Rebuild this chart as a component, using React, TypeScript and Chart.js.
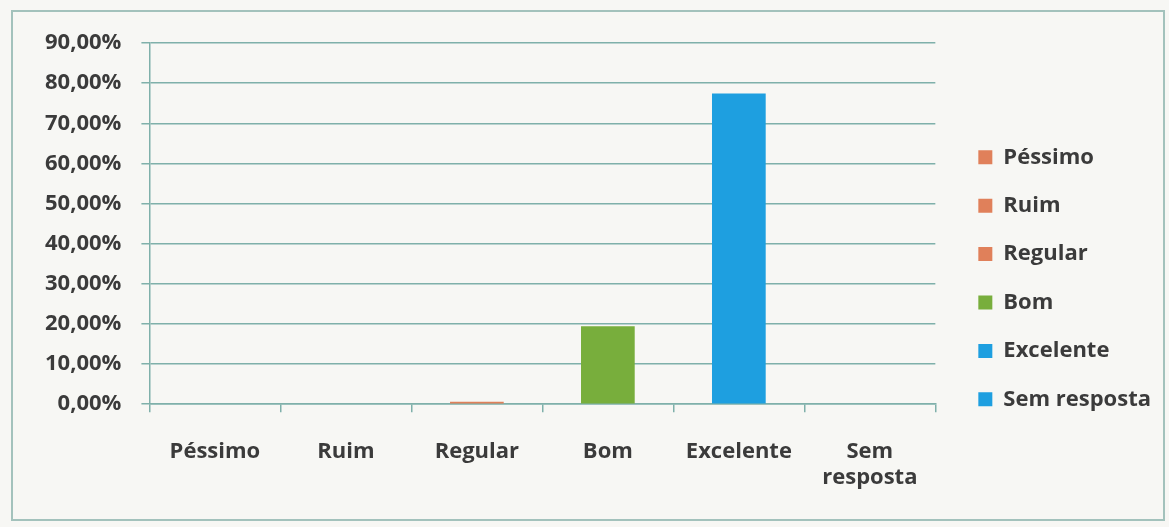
import React, { useEffect, useRef } from "react";
import { Chart, registerables } from "chart.js";

Chart.register(...registerables);

const categories = ["Péssimo", "Ruim", "Regular", "Bom", "Excelente", "Sem resposta"];
const values = [0, 0, 0.6, 19.4, 77.4, 0];
const barColors = ["#E0805A", "#E0805A", "#E0805A", "#78AE3C", "#1E9FE0", "#1E9FE0"];
const yTicks = [0, 10, 20, 30, 40, 50, 60, 70, 80, 90];

const FONT = "'Open Sans', sans-serif";
const TEXT = "#3b3b3b";
const GRID = "#7fb0aa";
const FS = 22;

export default function App() {
  const ref = useRef<HTMLCanvasElement | null>(null);

  useEffect(() => {
    document.body.style.background = "#f7f7f4";
    const ctx = ref.current!;
    const chart = new Chart(ctx, {
      type: "bar",
      data: {
        labels: categories,
        datasets: [
          {
            data: values,
            backgroundColor: barColors,
            borderWidth: 0,
            barPercentage: 0.41,
            categoryPercentage: 1,
          },
        ],
      },
      options: {
        responsive: false,
        animation: false,
        layout: { padding: { top: 11, right: 2, bottom: 2, left: 12 } },
        plugins: {
          tooltip: { enabled: false },
          legend: {
            position: "right",
            labels: {
              boxWidth: 14,
              boxHeight: 14,
              padding: 43,
              color: TEXT,
              font: { family: FONT, size: FS, weight: "bold", lineHeight: 0.245 },
              generateLabels: () =>
                categories.map((c, i) => ({
                  text: [c],
                  fillStyle: barColors[i],
                  strokeStyle: barColors[i],
                  lineWidth: 0,
                  hidden: false,
                  index: i,
                  fontColor: TEXT,
                })) as any,
            },
            onClick: () => {},
          },
        },
        scales: {
          x: {
            grid: {
              display: true,
              drawOnChartArea: false,
              drawTicks: true,
              tickLength: 8,
              color: GRID,
              lineWidth: 1.5,
            },
            border: { display: true, color: GRID, width: 1.5 },
            ticks: {
              padding: 26,
              color: TEXT,
              font: { family: FONT, size: FS, weight: "bold" },
              maxRotation: 0,
              autoSkip: false,
              callback: (_v: any, i: number) => {
                const s = categories[i];
                return s.includes(" ") ? s.split(" ") : s;
              },
            },
          },
          y: {
            min: 0,
            max: 90,
            afterBuildTicks: (axis: any) => {
              axis.ticks = yTicks.map((v) => ({ value: v }));
            },
            grid: {
              color: GRID,
              lineWidth: 1.5,
              drawTicks: true,
              tickLength: 8,
            },
            border: { display: true, color: GRID, width: 1.5 },
            ticks: {
              padding: 20,
              color: TEXT,
              font: { family: FONT, size: FS, weight: "bold", lineHeight: 1.0 },
              callback: (v: any) => Number(v).toFixed(2).replace(".", ",") + "%",
            },
          },
        },
      },
    });
    return () => chart.destroy();
  }, []);

  return (
    <div
      style={{
        position: "absolute",
        left: 11,
        top: 10,
        width: 1154,
        height: 511,
        boxSizing: "border-box",
        border: "2px solid #a3c2bc",
      }}
    >
      <canvas ref={ref} width={1150} height={507} style={{ display: "block" }} />
    </div>
  );
}
